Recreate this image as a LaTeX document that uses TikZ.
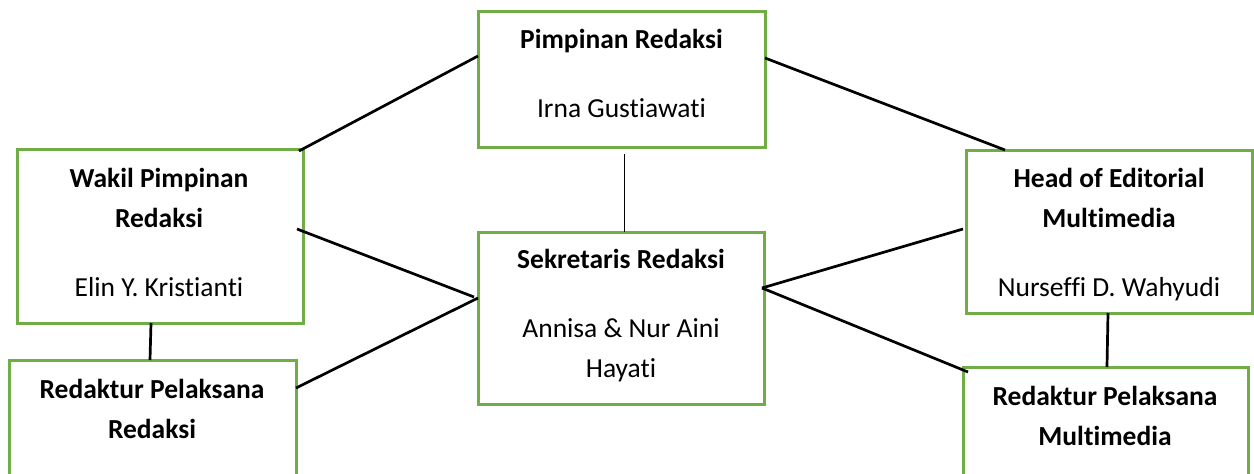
\documentclass[tikz,border=0pt]{standalone}
\usepackage{fontspec}
\setmainfont[Ligatures=NoCommon]{Carlito}
\definecolor{boxgreen}{HTML}{70AD47}
\begin{document}
\begin{tikzpicture}[x=1pt,y=-1pt,
  orgbox/.style={draw=boxgreen,line width=3pt,fill=none,rectangle,anchor=north west,inner sep=0pt,outer sep=0pt},
  link/.style={draw=black,line width=2.7pt},
  thinlink/.style={draw=black,line width=1.3pt},
  boldtxt/.style={anchor=base,inner sep=0pt,font=\fontsize{27.5}{33}\selectfont\bfseries},
  plaintxt/.style={anchor=base,inner sep=0pt,font=\fontsize{27.5}{33}\selectfont}]
\useasboundingbox (0,0) rectangle (1254,474);
\clip (0,0) rectangle (1254,474);
% boxes
\node[orgbox,minimum width=287pt,minimum height=136pt] (pim) at (478,11) {};
\node[orgbox,minimum width=286pt,minimum height=174pt] (wak) at (17,149) {};
\node[orgbox,minimum width=287pt,minimum height=150pt] (red) at (9,360) {};
\node[orgbox,minimum width=286pt,minimum height=172pt] (sek) at (478,232) {};
\node[orgbox,minimum width=286pt,minimum height=163pt] (hed) at (966,150) {};
\node[orgbox,minimum width=285pt,minimum height=150pt] (rmm) at (963,367) {};
% texts
\node[boldtxt] (t1) at (621.5,48) {Pimpinan Redaksi};
\node[plaintxt] (t2) at (621.5,117) {Irna Gustiawati};
\node[boldtxt] (t3) at (159,187) {Wakil Pimpinan};
\node[boldtxt] (t4) at (159,227) {Redaksi};
\node[plaintxt] (t5) at (159,296) {Elin Y. Kristianti};
\node[boldtxt] (t6) at (152,398) {Redaktur Pelaksana};
\node[boldtxt] (t7) at (152,438) {Redaksi};
\node[boldtxt] (t8) at (621,268) {Sekretaris Redaksi};
\node[plaintxt] (t9) at (621,337) {Annisa \& Nur Aini};
\node[plaintxt] (t10) at (621,377) {Hayati};
\node[boldtxt] (t11) at (1109,187) {Head of Editorial};
\node[boldtxt] (t12) at (1109,227) {Multimedia};
\node[plaintxt] (t13) at (1109,296) {Nurseffi D. Wahyudi};
\node[boldtxt] (t14) at (1105,405) {Redaktur Pelaksana};
\node[boldtxt] (t15) at (1105,445) {Multimedia};
% connectors
\draw[link] ([shift={(-4,2)}]wak.north east) -- ([shift={(0,45)}]pim.north west);
\draw[link] ([shift={(0,47)}]pim.north east) -- ([shift={(39,0)}]hed.north west);
\draw[thinlink] ([shift={(3,7)}]pim.south) -- ([shift={(3.5,0)}]sek.north);
\draw[link] ([shift={(-6,80)}]wak.north east) -- ([shift={(-4,65)}]sek.north west);
\draw[link] ([shift={(0,28)}]red.north east) -- ([shift={(0,66)}]sek.north west);
\draw[link] ([shift={(-2,56)}]sek.north east) -- ([shift={(-3,79)}]hed.north west);
\draw[link] ([shift={(-2,56)}]sek.north east) -- ([shift={(5,5)}]rmm.north west);
\draw[link] ([shift={(-9,0)}]wak.south) -- ([shift={(-2.5,0)}]red.north);
\draw[link] ([shift={(-1,0)}]hed.south) -- ([shift={(1.5,0)}]rmm.north);
\end{tikzpicture}
\end{document}
